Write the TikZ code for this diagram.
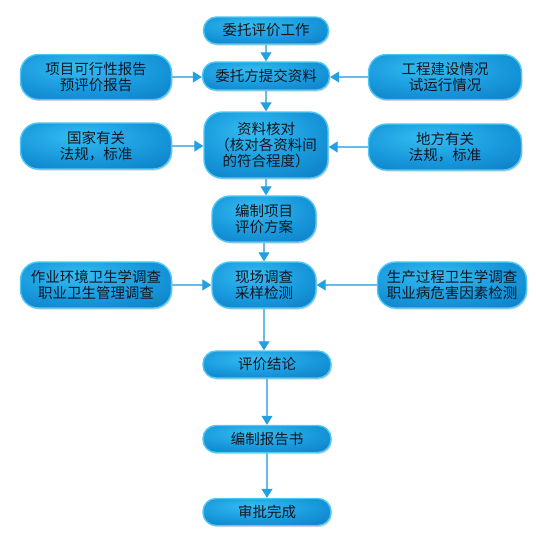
\documentclass[tikz,border=0pt]{standalone}
\usepackage{fontspec}
\newfontfamily\cjk{Noto Sans CJK SC}
\usetikzlibrary{arrows.meta,shadows}
\definecolor{bcin}{HTML}{34BDF2}
\definecolor{bcmid}{HTML}{1898DC}
\definecolor{bcout}{HTML}{0A76BE}
\definecolor{bborder}{HTML}{4EC8F4}
\definecolor{arrowcol}{HTML}{68BDE8}
\definecolor{headcol}{HTML}{22A0E0}
\definecolor{txtcol}{HTML}{15151F}
\pgfdeclareradialshading{boxshade}{\pgfpoint{-6bp}{12bp}}{color(0bp)=(bcin); color(24bp)=(bcmid); color(46bp)=(bcout); color(80bp)=(bcout)}
\tikzset{
  box/.style={draw=bborder, line width=1.4pt, shading=boxshade, inner sep=0pt,
    align=center, text=txtcol, font=\cjk\fontsize{14.5}{16}\selectfont,
    drop shadow={shadow xshift=1pt, shadow yshift=-1.5pt, opacity=0.25, fill=black!60}},
  shortbox/.style={box, rounded corners=13pt, minimum height=27pt},
  tallbox/.style={box, rounded corners=18pt},
  flow/.style={draw=arrowcol, line width=1.2pt, -{Triangle[length=9pt,width=11pt,color=headcol]}}
}
\begin{document}
\begin{tikzpicture}[x=1pt,y=-1pt]
\fill[white] (0,0) rectangle (536,539);
\useasboundingbox (0,0) rectangle (536,539);
% main column
\node[shortbox, minimum width=125pt] (b1) at (266,30.5) {委托评价工作};
\node[shortbox, minimum width=127pt, minimum height=28pt] (b2) at (266,76) {委托方提交资料};
\node[tallbox, minimum width=124pt, minimum height=66pt] (b3) at (266,145) {资料核对\\（核对各资料间\\的符合程度）};
\node[tallbox, minimum width=104pt, minimum height=46pt] (b4) at (264,219) {编制项目\\评价方案};
\node[tallbox, minimum width=104pt, minimum height=46pt] (b5) at (264,285) {现场调查\\采样检测};
\node[shortbox, minimum width=128pt] (b6) at (267,364.5) {评价结论};
\node[shortbox, minimum width=128pt] (b7) at (267,439) {编制报告书};
\node[shortbox, minimum width=128pt] (b8) at (267,512) {审批完成};
% side boxes
\node[tallbox, minimum width=151pt, minimum height=45pt] (l1) at (96,77) {项目可行性报告\\预评价报告};
\node[tallbox, minimum width=153pt, minimum height=45pt] (r1) at (445,77) {工程建设情况\\试运行情况};
\node[tallbox, minimum width=151pt, minimum height=46pt] (l2) at (96,146) {国家有关\\法规，标准};
\node[tallbox, minimum width=153pt, minimum height=46pt] (r2) at (445,147) {地方有关\\法规，标准};
\node[tallbox, minimum width=151pt, minimum height=46pt] (l3) at (96,285) {作业环境卫生学调查\\职业卫生管理调查};
\node[tallbox, minimum width=149pt, minimum height=46pt] (r3) at (452,285) {生产过程卫生学调查\\职业病危害因素检测};
% vertical connectors
\draw[flow] (b1.south) -- (b2.north);
\draw[flow] (b2.south) -- (b3.north);
\draw[flow] (b3.south) -- (b3.south |- b4.north);
\draw[flow] (b4.south) -- (b5.north);
\draw[flow] (b5.south) -- (b5.south |- b6.north);
\draw[flow] (b6.south) -- (b7.north);
\draw[flow] (b7.south) -- (b8.north);
% horizontal connectors
\draw[flow] (l1.east) -- (l1.east -| b2.west);
\draw[flow] (r1.west) -- (r1.west -| b2.east);
\draw[flow] (l2.east) -- (l2.east -| b3.west);
\draw[flow] (r2.west) -- (r2.west -| b3.east);
\draw[flow] (l3.east) -- (l3.east -| b5.west);
\draw[flow] (r3.west) -- (r3.west -| b5.east);
\end{tikzpicture}
\end{document}
